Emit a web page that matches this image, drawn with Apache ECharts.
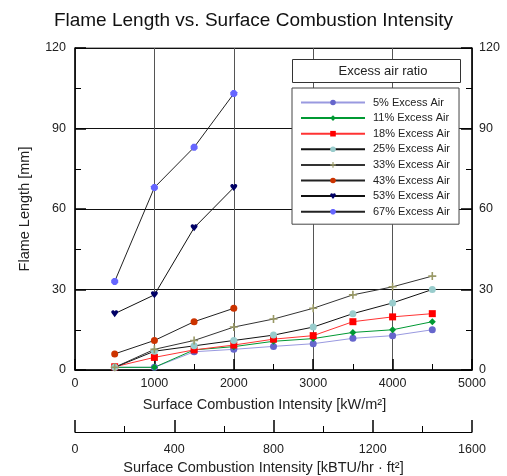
<!DOCTYPE html>
<html>
<head>
<meta charset="utf-8">
<script src="https://cdn.jsdelivr.net/npm/echarts@6/dist/echarts.min.js"></script>
<style>html,body{margin:0;padding:0;background:#fff;}#c{width:507px;height:476px;}</style>
</head>
<body>
<div id="c"></div>
<script>
const xFull = [500, 1000, 1500, 2000, 2500, 3000, 3500, 4000, 4500];
const xShort = [500, 1000, 1500, 2000];
const ea5 = [1, 1, 6.8, 7.7, 8.8, 9.8, 11.8, 12.8, 15];
const ea11 = [1, 1, 7.5, 8.7, 10.7, 11.7, 14, 15, 18];
const ea18 = [1.2, 4.7, 7.5, 9.3, 11.5, 12.8, 18, 19.8, 21];
const ea25 = [1, 7, 9, 11, 13, 16, 21, 25, 30];
const ea33 = [1, 7.7, 11, 16, 19, 23, 28, 31, 35];
const ea43 = [6, 11, 18, 23];
const ea53 = [21, 28, 53, 68];
const ea67 = [33, 68, 83, 103];
const seriesNames = ['5% Excess Air','11% Excess Air','18% Excess Air','25% Excess Air','33% Excess Air','43% Excess Air','53% Excess Air','67% Excess Air'];
const xTicksTop = [0, 1000, 2000, 3000, 4000, 5000];
const xTicksBottom = [0, 400, 800, 1200, 1600];
const yTicks = [0, 30, 60, 90, 120];

function pairs(xs, ys){ return ys.map((v,i)=>[xs[i], v]); }

const plusPath = 'path://M4,0H6V4H10V6H6V10H4V6H0V4H4Z';
const heartPath = 'path://M5,10L0.6,4.2C-0.8,2 0.8,0 2.6,0C3.8,0 4.6,0.8 5,1.6C5.4,0.8 6.2,0 7.4,0C9.2,0 10.8,2 9.4,4.2Z';
const octPath = 'path://M3,0H7L10,3V7L7,10H3L0,7V3Z';

const specs = [
  {data: pairs(xFull, ea5), symbol:'circle', mc:'#6666cc', lc:'#9999e0', size:7},
  {data: pairs(xFull, ea11), symbol:'diamond', mc:'#009933', lc:'#009933', size:7},
  {data: pairs(xFull, ea18), symbol:'rect', mc:'#ff0000', lc:'#ff3333', size:7},
  {data: pairs(xFull, ea25), symbol:'circle', mc:'#99cccc', lc:'#111111', size:7},
  {data: pairs(xFull, ea33), symbol:plusPath, mc:'#999966', lc:'#333333', size:8},
  {data: pairs(xShort, ea43), symbol:'circle', mc:'#cc3300', lc:'#222222', size:7},
  {data: pairs(xShort, ea53), symbol:heartPath, mc:'#000066', lc:'#111111', size:7},
  {data: pairs(xShort, ea67), symbol:octPath, mc:'#6666ff', lc:'#222222', size:7}
];

const series = specs.map((s,i)=>({
  name: seriesNames[i], type:'line', xAxisIndex:0, yAxisIndex:0,
  data: s.data, symbol: s.symbol, symbolSize: s.size, showSymbol:true,
  lineStyle:{color:s.lc, width:1}, itemStyle:{color:s.mc, borderWidth:0},
  emphasis:{disabled:true}, animation:false, z:3
}));
series.push({type:'line', xAxisIndex:1, yAxisIndex:2, data:[], silent:true});

const font = 'Liberation Sans, Arial, sans-serif';
const plain = v => String(v);
const chart = echarts.init(document.getElementById('c'), null, {renderer:'canvas'});
chart.setOption({
  backgroundColor:'#fff',
  animation:false,
  textStyle:{fontFamily:font},
  title:{text:'Flame Length vs. Surface Combustion Intensity', left:'center', top:6,
    textStyle:{fontSize:19, fontWeight:'normal', color:'#111', fontFamily:font}},
  grid:[
    {left:75, right:35, top:48, bottom:106, show:true, borderColor:'#555', borderWidth:1},
    {left:75, right:35, top:431, height:1}
  ],
  legend:{
    orient:'vertical', left:292, top:88, padding:[9,9,7,8], itemGap:4.6,
    itemWidth:64, itemHeight:7, backgroundColor:'#fff', borderColor:'#444', borderWidth:1,
    textStyle:{fontSize:11, color:'#222', fontFamily:font, padding:[0,0,0,3]},
    data: seriesNames, selectedMode:false
  },
  xAxis:[
    {type:'value', gridIndex:0, min:xTicksTop[0], max:xTicksTop[xTicksTop.length-1], interval:1000, position:'bottom',
      axisLine:{show:true, lineStyle:{color:'#000', width:1.5}},
      axisTick:{show:true, inside:true, length:11, lineStyle:{color:'#000', width:1.5}},
      minorTick:{show:true, splitNumber:2, length:6, lineStyle:{color:'#000', width:1}},
      splitLine:{show:true, lineStyle:{color:'#555', width:1}},
      axisLabel:{fontSize:12.5, color:'#222', margin:7, fontFamily:font, formatter:plain},
      name:'Surface Combustion Intensity [kW/m²]', nameLocation:'middle', nameGap:27,
      nameTextStyle:{fontSize:14.5, color:'#222', fontFamily:font, padding:[0,18,0,0]}},
    {type:'value', gridIndex:1, min:xTicksBottom[0], max:xTicksBottom[xTicksBottom.length-1], interval:400, position:'bottom',
      axisLine:{show:true, lineStyle:{color:'#000', width:1}},
      axisTick:{show:true, inside:true, length:12, lineStyle:{color:'#000', width:1.5}},
      minorTick:{show:true, splitNumber:2, length:6, lineStyle:{color:'#000', width:1}},
      splitLine:{show:false},
      axisLabel:{fontSize:12.5, color:'#222', margin:11, fontFamily:font, formatter:plain},
      name:'Surface Combustion Intensity [kBTU/hr · ft²]', nameLocation:'middle', nameGap:28,
      nameTextStyle:{fontSize:14.5, color:'#222', fontFamily:font, padding:[0,20,0,0]}}
  ],
  yAxis:[
    {type:'value', gridIndex:0, min:yTicks[0], max:yTicks[yTicks.length-1], interval:30, position:'left',
      axisLine:{show:true, lineStyle:{color:'#000', width:1.5}},
      axisTick:{show:true, inside:true, length:11, lineStyle:{color:'#000', width:1.5}},
      minorTick:{show:true, splitNumber:2, length:6, lineStyle:{color:'#000', width:1}},
      splitLine:{show:true, lineStyle:{color:'#111', width:1}},
      axisLabel:{fontSize:12.5, color:'#222', margin:9, fontFamily:font},
      name:'Flame Length [mm]', nameLocation:'middle', nameGap:43,
      nameTextStyle:{fontSize:14.5, color:'#222', fontFamily:font}},
    {type:'value', gridIndex:0, min:yTicks[0], max:yTicks[yTicks.length-1], interval:30, position:'right',
      axisLine:{show:true, lineStyle:{color:'#000', width:1.5}},
      axisTick:{show:true, inside:true, length:11, lineStyle:{color:'#000', width:1.5}},
      minorTick:{show:true, splitNumber:2, length:6, lineStyle:{color:'#000', width:1}},
      splitLine:{show:false},
      axisLabel:{fontSize:12.5, color:'#222', margin:7, fontFamily:font}},
    {type:'value', gridIndex:1, show:false, min:0, max:1}
  ],
  graphic:[
    {type:'rect', shape:{x:292.5, y:59.5, width:168, height:23}, style:{fill:'#fff', stroke:'#333', lineWidth:1}, z:100},
    {type:'text', x:383, y:71.5, style:{text:'Excess air ratio', font:'13px Liberation Sans, Arial, sans-serif', fill:'#222', textAlign:'center', textVerticalAlign:'middle'}, z:101}
  ],
  series: series
});
</script>
</body>
</html>
